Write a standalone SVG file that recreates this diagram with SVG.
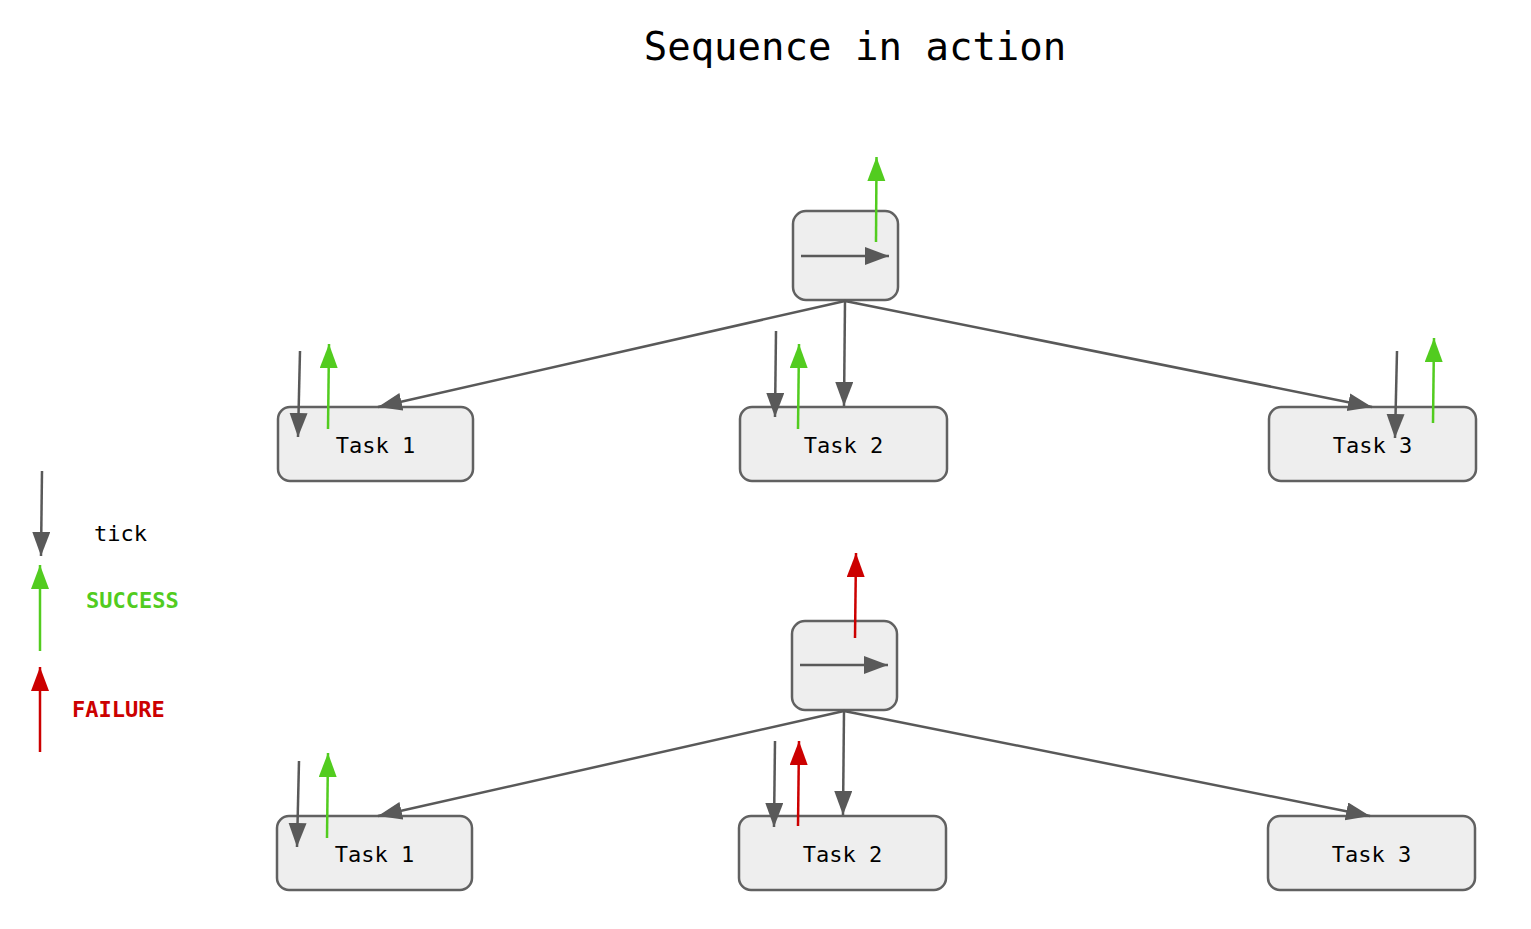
<svg xmlns="http://www.w3.org/2000/svg" width="1531" height="929" viewBox="0 0 1531 929">
<defs>
<marker id="ag" markerUnits="userSpaceOnUse" markerWidth="26" markerHeight="20" refX="24" refY="9" orient="auto"><path d="M0,0 L24,9 L0,18 z" fill="#595959"/></marker>
<marker id="agr" markerUnits="userSpaceOnUse" markerWidth="26" markerHeight="20" refX="24" refY="9" orient="auto"><path d="M0,0 L24,9 L0,18 z" fill="#52cc1f"/></marker>
<marker id="ar" markerUnits="userSpaceOnUse" markerWidth="26" markerHeight="20" refX="24" refY="9" orient="auto"><path d="M0,0 L24,9 L0,18 z" fill="#cc0000"/></marker>
</defs>
<style>
.node{fill:#eeeeee;stroke:#616161;stroke-width:2.5}
.lbl{font-family:"DejaVu Sans Mono","Liberation Mono",monospace;font-size:22px;fill:#000;text-anchor:middle}
.g{stroke:#595959;stroke-width:2.5;fill:none;marker-end:url(#ag)}
.s{stroke:#52cc1f;stroke-width:2.5;fill:none;marker-end:url(#agr)}
.f{stroke:#cc0000;stroke-width:2.5;fill:none;marker-end:url(#ar)}
</style>
<rect width="1531" height="929" fill="#ffffff"/>
<text x="855" y="60" style="font-family:'DejaVu Sans Mono','Liberation Mono',monospace;font-size:39px;text-anchor:middle">Sequence in action</text>

<g id="seq1"><rect class="node" x="793" y="211" width="105" height="89" rx="13"/><line class="g" x1="801" y1="256" x2="889" y2="256"/></g>
<g id="t1a"><rect class="node" x="278" y="407" width="195" height="74" rx="12"/><text class="lbl" x="375.5" y="453">Task 1</text></g>
<g id="t2a"><rect class="node" x="740" y="407" width="207" height="74" rx="12"/><text class="lbl" x="843.5" y="453">Task 2</text></g>
<g id="t3a"><rect class="node" x="1269" y="407" width="207" height="74" rx="12"/><text class="lbl" x="1372.5" y="453">Task 3</text></g>

<g id="seq2"><rect class="node" x="792" y="621" width="105" height="89" rx="13"/><line class="g" x1="800" y1="665" x2="888" y2="665"/></g>
<g id="t1b"><rect class="node" x="277" y="816" width="195" height="74" rx="12"/><text class="lbl" x="374.5" y="862">Task 1</text></g>
<g id="t2b"><rect class="node" x="739" y="816" width="207" height="74" rx="12"/><text class="lbl" x="842.5" y="862">Task 2</text></g>
<g id="t3b"><rect class="node" x="1268" y="816" width="207" height="74" rx="12"/><text class="lbl" x="1371.5" y="862">Task 3</text></g>

<g id="connectors">
<line class="g" x1="845" y1="301" x2="378" y2="407"/>
<line class="g" x1="845" y1="301" x2="844" y2="406"/>
<line class="g" x1="845" y1="301" x2="1372" y2="407"/>
<line class="s" x1="876" y1="242" x2="876.5" y2="157"/>
<line class="g" x1="300" y1="351" x2="298" y2="437"/>
<line class="s" x1="328" y1="429" x2="329" y2="344"/>
<line class="g" x1="776" y1="331" x2="775" y2="417"/>
<line class="s" x1="798" y1="429" x2="799" y2="344"/>
<line class="g" x1="1397" y1="351" x2="1395" y2="438"/>
<line class="s" x1="1433" y1="423" x2="1434" y2="338"/>

<line class="g" x1="844" y1="711" x2="378" y2="816"/>
<line class="g" x1="844" y1="711" x2="843" y2="815"/>
<line class="g" x1="844" y1="711" x2="1370" y2="816"/>
<line class="f" x1="855" y1="638" x2="856" y2="553"/>
<line class="g" x1="299" y1="761" x2="297" y2="847"/>
<line class="s" x1="327" y1="838" x2="328" y2="753"/>
<line class="g" x1="775" y1="741" x2="774" y2="827"/>
<line class="f" x1="798" y1="826" x2="799" y2="741"/>

<line class="g" x1="42" y1="471" x2="41" y2="556"/>
<line class="s" x1="40" y1="651" x2="40" y2="565"/>
<line class="f" x1="40" y1="752" x2="40" y2="667"/>
</g>
<g id="legend">
<text x="94" y="541" style="font-family:'DejaVu Sans Mono','Liberation Mono',monospace;font-size:22px;fill:#000">tick</text>
<text x="86" y="608" style="font-family:'DejaVu Sans Mono','Liberation Mono',monospace;font-size:22px;font-weight:bold;fill:#52cc1f">SUCCESS</text>
<text x="72" y="717" style="font-family:'DejaVu Sans Mono','Liberation Mono',monospace;font-size:22px;font-weight:bold;fill:#cc0000">FAILURE</text>
</g>
</svg>
